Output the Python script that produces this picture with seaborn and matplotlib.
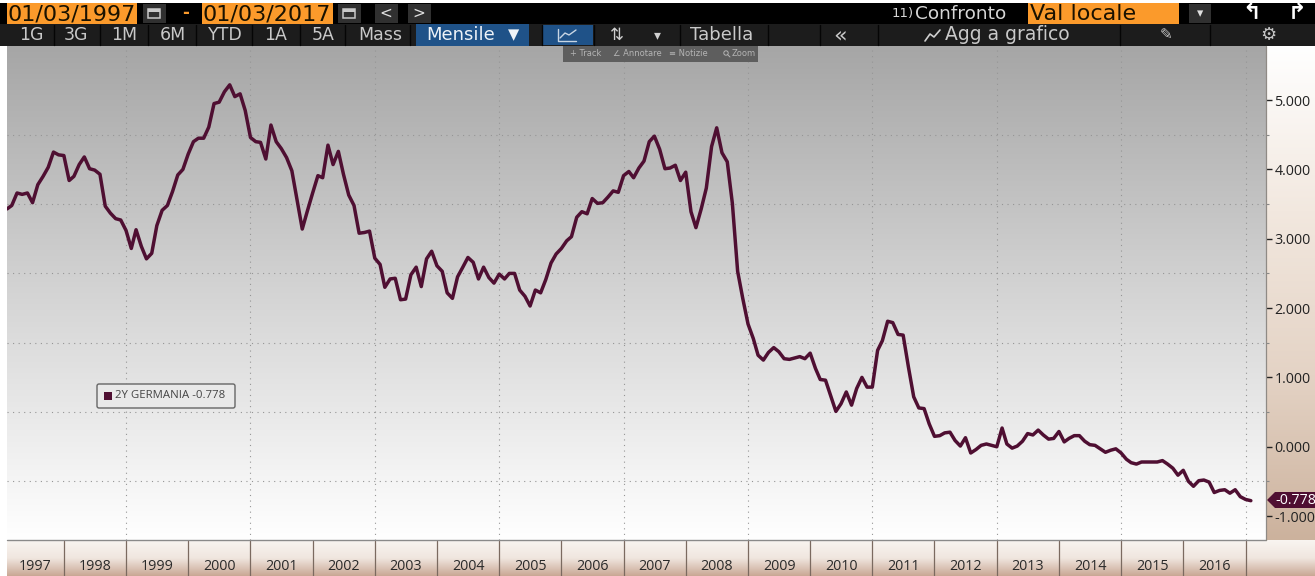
import numpy as np
import pandas as pd
import matplotlib
matplotlib.use("Agg")
import matplotlib.pyplot as plt
import matplotlib.dates as mdates
from matplotlib.colors import LinearSegmentedColormap
from matplotlib.patches import Rectangle, FancyBboxPatch, Polygon, Circle
import seaborn as sns

# Month-end German 2-year yield, percent
yield_1997_2003 = [
    3.43, 3.48, 3.66, 3.64, 3.66, 3.52, 3.78, 3.90, 4.03, 4.25, 4.21, 4.20,
    3.84, 3.90, 4.07, 4.18, 4.01, 3.99, 3.93, 3.47, 3.37, 3.29, 3.27, 3.12,
    2.86, 3.13, 2.89, 2.71, 2.79, 3.19, 3.41, 3.48, 3.68, 3.92, 4.00, 4.22,
    4.40, 4.45, 4.45, 4.61, 4.95, 4.97, 5.12, 5.22, 5.05, 5.09, 4.85, 4.46,
    4.40, 4.39, 4.15, 4.64, 4.40, 4.30, 4.17, 3.98, 3.57, 3.14, 3.40, 3.66,
    3.91, 3.88, 4.35, 4.07, 4.26, 3.93, 3.63, 3.48, 3.08, 3.09, 3.11, 2.72,
    2.63, 2.30, 2.42, 2.43, 2.12, 2.13, 2.48, 2.59, 2.31, 2.71, 2.82,
]
yield_2003_2010 = [
    2.61, 2.53, 2.22, 2.14, 2.45, 2.59, 2.73, 2.66, 2.42, 2.59, 2.44, 2.36,
    2.49, 2.42, 2.50, 2.50, 2.26, 2.17, 2.03, 2.26, 2.22, 2.41, 2.65, 2.78,
    2.86, 2.97, 3.03, 3.31, 3.39, 3.36, 3.58, 3.51, 3.52, 3.60, 3.69, 3.67,
    3.91, 3.97, 3.88, 4.02, 4.12, 4.40, 4.48, 4.29, 4.01, 4.02, 4.06, 3.84,
    3.96, 3.39, 3.16, 3.43, 3.73, 4.33, 4.60, 4.24, 4.11, 3.51, 2.53, 2.14,
    1.77, 1.56, 1.32, 1.25, 1.36, 1.43, 1.37, 1.27, 1.26, 1.28, 1.30, 1.27,
    1.35, 1.13, 0.97, 0.96, 0.74, 0.51,
]
yield_2010_2017 = [
    0.62, 0.79, 0.60, 0.84, 1.00, 0.86, 0.86, 1.39, 1.53, 1.81, 1.79, 1.62,
    1.61, 1.15, 0.72, 0.56, 0.55, 0.33, 0.15, 0.16, 0.20, 0.21, 0.09, 0.01,
    0.13, -0.09, -0.04, 0.02, 0.04, 0.02, 0.00, 0.27, 0.04, -0.02, 0.01, 0.08,
    0.19, 0.17, 0.24, 0.17, 0.11, 0.12, 0.22, 0.07, 0.12, 0.16, 0.16, 0.08,
    0.03, 0.02, -0.03, -0.08, -0.05, -0.03, -0.09, -0.18, -0.23, -0.25, -0.22,
    -0.22, -0.22, -0.22, -0.20, -0.25, -0.31, -0.41, -0.34, -0.50, -0.57, -0.49,
    -0.48, -0.51, -0.66, -0.63, -0.62, -0.67, -0.62, -0.72, -0.76, -0.778,
]
yield_values = yield_1997_2003 + yield_2003_2010 + yield_2010_2017
year_labels = [str(y) for y in range(1997, 2017)]
y_tick_values = [-1, 0, 1, 2, 3, 4, 5]
y_tick_labels = ["-1.000", "0.000", "1.000", "2.000", "3.000", "4.000", "5.000"]
range_labels = ["1G", "3G", "1M", "6M", "YTD", "1A", "5A", "Mass"]
series_name = "2Y GERMANIA"
last_value = -0.778

LINE = "#4f0f32"
ORANGE = "#fb9a2b"
W, H = 1315, 576

sns.set_theme(style="white")
plt.rcParams["font.family"] = ["DejaVu Sans"]

frame = pd.DataFrame({
    "date": pd.date_range("1997-02-01", periods=len(yield_values), freq="MS"),
    "yield": yield_values,
})

fig = plt.figure(figsize=(W / 100, H / 100), dpi=100, facecolor="white")


def pixel_axes(left, top, right, bottom, **kw):
    return fig.add_axes([left / W, 1 - bottom / H, (right - left) / W, (bottom - top) / H], **kw)


def vertical_gradient(axis, colors):
    cmap = LinearSegmentedColormap.from_list("band", colors)
    axis.imshow(np.linspace(0, 1, 256)[:, None], aspect="auto", cmap=cmap,
                extent=(0, 1, 0, 1), origin="upper", transform=axis.transAxes, zorder=0)


# Tan price-scale panel on the right
scale_panel = pixel_axes(1266, 46, W, 540, zorder=1)
scale_panel.set_axis_off()
vertical_gradient(scale_panel, ["#ffffff", "#f2e8df", "#e4d3c5", "#ccb29d"])

# Main plotting area
ax = pixel_axes(7, 46, 1266, 540, zorder=2)
x_start = pd.Timestamp("1997-02-01")
x_end = pd.Timestamp("2017-05-01")
vertical_gradient(ax, ["#a6a6a6", "#d4d4d4", "#ffffff"])
ax.set_xlim(mdates.date2num(x_start), mdates.date2num(x_end))
ax.set_ylim(-1.345, 5.78)

grid_style = dict(color="#959595", lw=0.8, ls=(0, (1, 4)), zorder=1)
for level in np.arange(-0.5, 5.0, 1.0):
    ax.axhline(level, **grid_style)
for year in range(1999, 2018, 2):
    ax.axvline(mdates.date2num(pd.Timestamp(year=year, month=1, day=1)), **grid_style)

sns.lineplot(data=frame, x="date", y="yield", ax=ax, color=LINE, lw=2.5, zorder=3, legend=False)
ax.set_xlabel("")
ax.set_ylabel("")
ax.set_xticks([])
ax.yaxis.tick_right()
ax.set_yticks(y_tick_values, labels=y_tick_labels)
ax.tick_params(axis="y", length=4.5, width=1, color="#222222", pad=1.5, labelsize=10.3,
               labelcolor="#222222", right=True, labelfontfamily="Open Sans")
ax.set_yticks(np.arange(-0.5, 5.0, 1.0), minor=True)
ax.tick_params(axis="y", which="minor", length=2, width=0.8, color="#888888", right=True)
for spine in ax.spines.values():
    spine.set_visible(False)

# Overlay in pixel coordinates for the terminal chrome
ui = fig.add_axes([0, 0, 1, 1], zorder=5)
ui.set_xlim(0, W)
ui.set_ylim(H, 0)
ui.set_axis_off()
ui.patch.set_alpha(0)


def box(x0, y0, x1, y1, color, **kw):
    ui.add_patch(Rectangle((x0, y0), x1 - x0, y1 - y0, facecolor=color, edgecolor="none", **kw))


def label(x, y, s, size=12.5, color="#c9c9c9", ha="center", **kw):
    ui.text(x, y, s, fontsize=size, color=color, ha=ha, va="center", **kw)


# Top date bar
box(0, 3, W, 24, "#000000")
box(7, 3, 137, 24, ORANGE)
box(202, 3, 333, 24, ORANGE)
box(1028, 3, 1179, 24, ORANGE)
label(72, 14, "01/03/1997", 16, "#1a1200")
label(267, 14, "01/03/2017", 16, "#1a1200")
label(1030, 14, "Val locale", 16, "#1a1200", ha="left")
label(186, 13, "-", 12, ORANGE, fontweight="bold")
label(892, 14, "11)", 9.5, "#d6d6d6", ha="left", family=["Liberation Sans Narrow", "DejaVu Sans"])
label(915, 14, "Confronto", 13.3, "#d6d6d6", ha="left")
for x0, x1 in [(143, 166), (338, 361), (375, 398), (408, 431), (1189, 1211)]:
    box(x0, 4, x1, 23, "#303030")
label(386, 13, "<", 11, "#e0e0e0")
label(419, 13, ">", 11, "#e0e0e0")
for x0 in (148, 343):
    ui.add_patch(Rectangle((x0, 9), 12, 9, facecolor="none", edgecolor="#c8c8c8", lw=1.1))
    box(x0, 9, x0 + 12, 11.5, "#c8c8c8")
label(1200, 14, "▾", 9, "#e0e0e0")
label(1252, 13, "↰", 16, "#ffffff", fontweight="bold")
label(1297, 13, "↱", 16, "#ffffff", fontweight="bold")

# Range and period bar
box(0, 24, W, 46, "#1c1c1c")
centers = [31, 76, 124, 173, 225, 276, 323, 380]
for cx, text in zip(centers, range_labels):
    label(cx, 35, text, 12.5)
for x in [54, 100, 148, 196, 252, 300, 345, 410, 542, 594, 680, 768, 820, 878, 1120, 1210]:
    ui.plot([x, x], [25, 45], color="#050505", lw=1)
box(416, 24, 529, 46, "#1f5288")
label(461, 35, "Mensile", 13, "#eef3f8")
label(514, 35, "▼", 10.5, "#eef3f8")
box(542, 25, 593, 45, "#1f5288")
ui.plot([558, 558, 576], [29, 41, 41], color="#c8d6e4", lw=1)
ui.plot([560, 565, 569, 576], [38, 33, 35, 30], color="#c8d6e4", lw=1)
label(617, 35, "⇅", 12, "#d0d0d0")
label(657, 35, "▾", 10, "#d0d0d0")
label(722, 35, "Tabella", 13)
label(840, 35, "«", 16)
label(1007, 35, "Agg a grafico", 13.5)
ui.plot([925, 930, 934, 940], [41, 34, 37, 30], color="#cfcfcf", lw=1.2)
label(1166, 35, "✎", 11, "#c4c4c4")
label(1268, 35, "⚙", 13, "#c4c4c4")

# Floating mini toolbar
box(563, 46, 758, 62, "#5e5e5e")
label(586, 54, "+ Track", 6, "#b4b4b4")
label(637, 54, "∠ Annotare", 6, "#b4b4b4")
label(688, 54, "≡ Notizie", 6, "#b4b4b4")
label(744, 54, "Zoom", 6, "#b4b4b4")
ui.add_patch(Circle((726, 53), 2.2, facecolor="none", edgecolor="#b4b4b4", lw=0.7))
ui.plot([727.6, 730], [54.6, 57], color="#b4b4b4", lw=0.7)

# Legend box with the last value
ui.add_patch(FancyBboxPatch((97, 384), 138, 24, boxstyle="round,pad=0,rounding_size=2",
                            facecolor="#e9e9e9", edgecolor="#666666", lw=1))
box(104, 392, 112, 400, LINE)
label(115, 396, f"{series_name} {last_value:.3f}", 8.2, "#444444", ha="left",
      family="Open Sans")

# Last-value tag on the price scale
tag_y = 500
ui.add_patch(Polygon([(1267, tag_y), (1275, tag_y - 8), (W, tag_y - 8), (W, tag_y + 8), (1275, tag_y + 8)],
                     closed=True, facecolor=LINE, edgecolor="none"))
ui.text(1275, tag_y, f"{last_value:.3f}", fontsize=10.3, color="#ffffff", ha="left", va="center",
        family="Open Sans")

# Year strip along the bottom
strip = pixel_axes(0, 540, W, H, zorder=3)
strip.set_axis_off()
vertical_gradient(strip, ["#f9f5f1", "#f0e6df", "#c9a794"])
span_days = mdates.date2num(x_end) - mdates.date2num(x_start)


def to_px(day):
    return 7 + (mdates.date2num(day) - mdates.date2num(x_start)) * 1259 / span_days


for year in year_labels:
    y = int(year)
    left = to_px(pd.Timestamp(year=y, month=1, day=1)) if y > 1997 else 7
    right = to_px(pd.Timestamp(year=y + 1, month=1, day=1))
    label((left + right) / 2, 566, year, 10.3, "#2a2a2a", family="Open Sans", zorder=6)
    ui.plot([right, right], [541, 576], color="#7b6a60", lw=0.9, zorder=6)
ui.plot([7, 1266], [540, 540], color="#8a8a8a", lw=1)
ui.plot([1266, 1266], [46, 540], color="#8f8a85", lw=0.9)
box(0, 0, W, 3, "#ffffff")
box(0, 46, 7, 576, "#ffffff")

fig.savefig("out.png", dpi=100)
